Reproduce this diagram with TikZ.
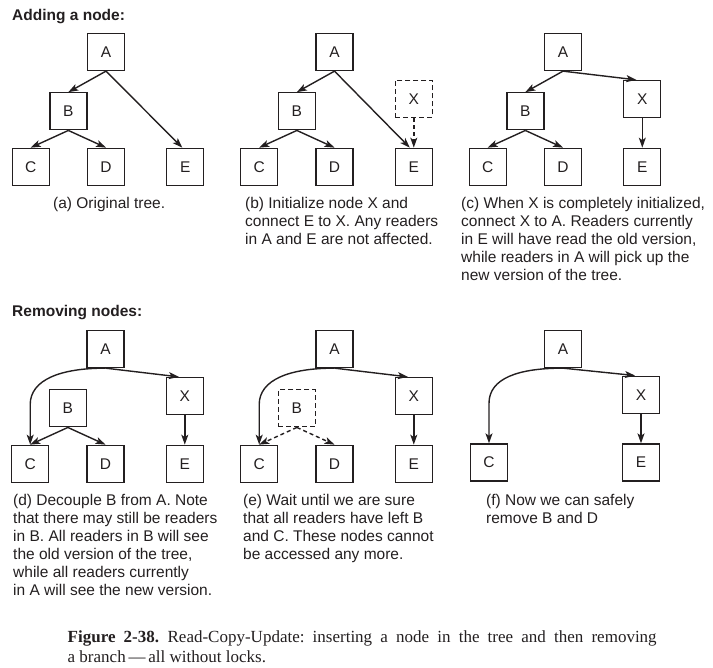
\documentclass[tikz,border=0pt]{standalone}
\usepackage{fontspec}
\setmainfont{Liberation Serif}
\setsansfont{Liberation Sans}
\usepackage{xcolor}
\usetikzlibrary{arrows.meta,positioning,calc}
\definecolor{ink}{HTML}{231F20}
\frenchspacing

\begin{document}
\begin{tikzpicture}[x=1pt, y=-1pt,
    box/.style={rectangle, draw=ink, line width=1.3pt, minimum size=37pt, inner sep=0pt, text=ink, font=\sffamily\fontsize{15.5}{18}\selectfont},
    ghost/.style={box, dash pattern=on 5pt off 3pt},
    arrow/.style={-{Stealth[length=10pt,width=7pt,inset=2.5pt]}, line width=1.4pt, draw=ink},
    darrow/.style={arrow, dash pattern=on 4pt off 3pt},
    note/.style={anchor=north west, align=left, inner sep=0pt, text=ink, font=\sffamily\fontsize{15.5}{18}\selectfont},
    heading/.style={note, anchor=base west, font=\sffamily\bfseries\fontsize{15.5}{18}\selectfont}
]
\useasboundingbox (0,0) rectangle (713,668);

\node[heading] (addhead) at (12,21) {Adding a node:};
\node[heading] (remhead) at (12,317) {Removing nodes:};

% (a) original tree
\node[box] (aA) at (106,52) {A};
\node[box, below=76.5pt of aA] (aD) {D};
\node[box, left=37pt of aD] (aC) {C};
\node[box, right=41pt of aD] (aE) {E};
\node[box] (aB) at ($(aC)!0.5!(aD)+(0,-55.5)$) {B};
\draw[arrow] (aA.south) -- (aB.north);
\draw[arrow] (aA.south) -- ([xshift=-3pt]aE.north);
\draw[arrow] (aB.south) -- (aC.north);
\draw[arrow] (aB.south) -- (aD.north);
\node[note] (acap) at (53,197.3) {(a) Original tree.};

% (b) X initialized
\node[box] (bA) at (334.5,52) {A};
\node[box, below=76.5pt of bA] (bD) {D};
\node[box, left=37pt of bD] (bC) {C};
\node[box, right=41pt of bD] (bE) {E};
\node[ghost, above=29.5pt of bE] (bX) {X};
\node[box] (bB) at ($(bC)!0.5!(bD)+(0,-55.5)$) {B};
\draw[arrow] (bA.south) -- (bB.north);
\draw[arrow] (bA.south) -- ([xshift=-4pt]bE.north);
\draw[arrow] (bB.south) -- (bC.north);
\draw[arrow] (bB.south) -- (bD.north);
\draw[darrow] (bX.south) -- (bE.north);
\node[note] (bcap) at (245,197.3) {(b) Initialize node X and\\connect E to X. Any readers\\in A and E are not affected.};

% (c) X linked into A
\node[box] (cA) at (563,52) {A};
\node[box, below=76.5pt of cA] (cD) {D};
\node[box, left=37pt of cD] (cC) {C};
\node[box, right=41pt of cD] (cE) {E};
\node[box, above=29.5pt of cE] (cX) {X};
\node[box] (cB) at ($(cC)!0.5!(cD)+(0,-55.5)$) {B};
\draw[arrow] (cA.south) -- (cB.north);
\draw[arrow] (cA.south) -- ([xshift=-6pt]cX.north);
\draw[arrow] (cB.south) -- (cC.north);
\draw[arrow] (cB.south) -- (cD.north);
\draw[arrow] (cX.south) -- (cE.north);
\node[note] (ccap) at (461,197.3) {(c) When X is completely initialized,\\connect X to A. Readers currently\\in E will have read the old version,\\while readers in A will pick up the\\new version of the tree.};

% (d) B decoupled
\node[box] (dA) at (105.5,349) {A};
\node[box, below=76.5pt of dA] (dD) {D};
\node[box, left=37pt of dD] (dC) {C};
\node[box, right=41pt of dD] (dE) {E};
\node[box, above=29.5pt of dE] (dX) {X};
\node[box] (dB) at ($(dC)!0.5!(dD)+(0,-55.5)$) {B};
\draw[arrow] (dA.south) .. controls +(-45,0) and +(0,-25) .. ($(dC.north)+(0,-40)$) -- (dC.north);
\draw[arrow] (dA.south) -- ([xshift=-6pt]dX.north);
\draw[arrow] (dB.south) -- (dC.north);
\draw[arrow] (dB.south) -- (dD.north);
\draw[arrow] (dX.south) -- (dE.north);
\node[note] (dcap) at (13,494.5) {(d) Decouple B from A. Note\\that there may still be readers\\in B. All readers in B will see\\the old version of the tree,\\while all readers currently\\in A will see the new version.};

% (e) waiting for readers
\node[box] (eA) at (334.5,349) {A};
\node[box, below=76.5pt of eA] (eD) {D};
\node[box, left=37pt of eD] (eC) {C};
\node[box, right=41pt of eD] (eE) {E};
\node[box, above=29.5pt of eE] (eX) {X};
\node[ghost] (eB) at ($(eC)!0.5!(eD)+(0,-55.5)$) {B};
\draw[arrow] (eA.south) .. controls +(-45,0) and +(0,-25) .. ($(eC.north)+(0,-40)$) -- (eC.north);
\draw[arrow] (eA.south) -- ([xshift=-6pt]eX.north);
\draw[darrow] (eB.south) -- (eC.north);
\draw[darrow] (eB.south) -- (eD.north);
\draw[arrow] (eX.south) -- (eE.north);
\node[note] (ecap) at (243,494.5) {(e) Wait until we are sure\\that all readers have left B\\and C. These nodes cannot\\be accessed any more.};

% (f) B and D removed
\node[box] (fA) at (563,349) {A};
\node[box] (fC) at ($(fA)+(-74,113.5)$) {C};
\node[box] (fE) at ($(fA)+(78,113.5)$) {E};
\node[box, above=29.5pt of fE] (fX) {X};
\draw[arrow] (fA.south) .. controls +(-45,0) and +(0,-25) .. ($(fC.north)+(0,-40)$) -- (fC.north);
\draw[arrow] (fA.south) -- ([xshift=-6pt]fX.north);
\draw[arrow] (fX.south) -- (fE.north);
\node[note] (fcap) at (486,494.5) {(f) Now we can safely\\remove B and D};

\node[anchor=north west, align=justify, text width=589pt, inner sep=0pt, text=ink, font=\fontsize{17}{20}\selectfont] (figcap) at (67.5,630.5)
  {\textbf{Figure 2-38.}\enspace Read-Copy-Update: inserting a node in the tree and then removing\linebreak a branch\,---\,all without locks.};
\end{tikzpicture}
\end{document}
